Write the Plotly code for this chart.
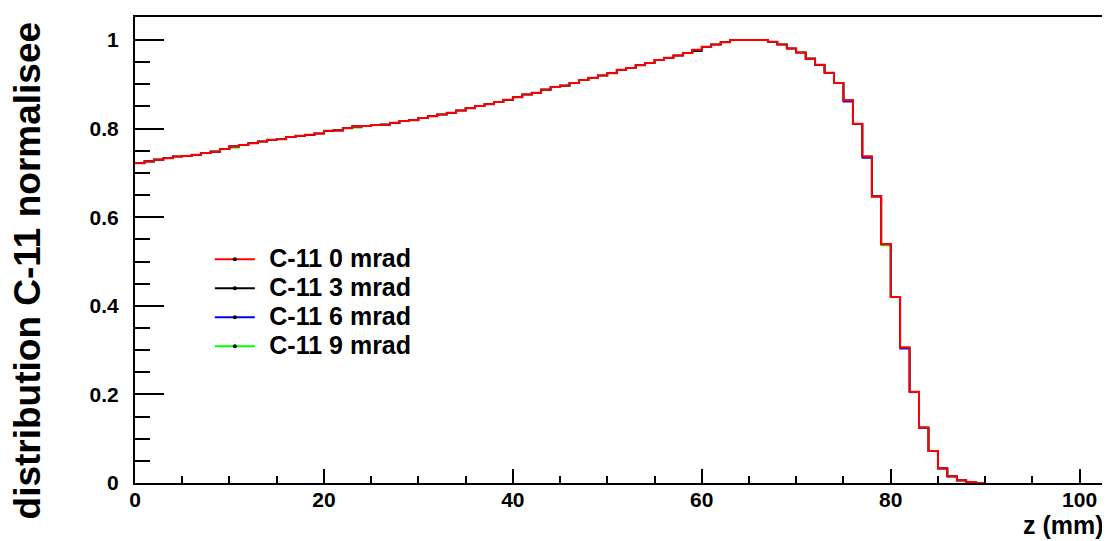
import plotly.graph_objects as go

# bin left edges (1 mm bins), z in mm
bin_edges = list(range(0, 91))

# C-11 0 mrad, normalised distribution, one value per 1 mm bin (0..89)
c11_0mrad = [
    0.722, 0.726, 0.730, 0.733, 0.737, 0.738, 0.741, 0.745, 0.748, 0.754,
    0.760, 0.763, 0.767, 0.771, 0.775, 0.776, 0.781, 0.784, 0.786, 0.789,
    0.795, 0.796, 0.801, 0.805, 0.806, 0.808, 0.809, 0.813, 0.817, 0.819,
    0.824, 0.828, 0.832, 0.836, 0.841, 0.846, 0.851, 0.855, 0.860, 0.865,
    0.871, 0.877, 0.881, 0.888, 0.894, 0.897, 0.903, 0.910, 0.915, 0.920,
    0.925, 0.933, 0.937, 0.943, 0.948, 0.955, 0.960, 0.965, 0.971, 0.978,
    0.985, 0.990, 0.995, 1.000, 1.000, 1.000, 1.000, 0.996, 0.990, 0.981,
    0.972, 0.958, 0.944, 0.926, 0.903, 0.864, 0.811, 0.737, 0.647, 0.539,
    0.420, 0.306, 0.206, 0.125, 0.072, 0.033, 0.015, 0.006, 0.002, 0.000,
]
# other angles: identical except these bins (bin index: value)
c11_3mrad_diff = {59: 0.975}
c11_6mrad_diff = {75: 0.861, 77: 0.734, 81: 0.303}
c11_9mrad_diff = {10: 0.757, 23: 0.802, 79: 0.536}

series_names = ["C-11 0 mrad", "C-11 3 mrad", "C-11 6 mrad", "C-11 9 mrad"]
series_colors = ["#ff0000", "#000000", "#0000ff", "#00ff00"]

def with_diff(base, diff):
    return [diff.get(i, v) for i, v in enumerate(base)]

series_values = [
    c11_0mrad,
    with_diff(c11_0mrad, c11_3mrad_diff),
    with_diff(c11_0mrad, c11_6mrad_diff),
    with_diff(c11_0mrad, c11_9mrad_diff),
]

FONT = "Liberation Sans, Arial, Helvetica, sans-serif"
fig = go.Figure()

# draw red last so it is on top
for idx in [3, 2, 1, 0]:
    vals = series_values[idx]
    fig.add_trace(go.Scatter(
        x=bin_edges, y=vals + [vals[-1]],
        mode="lines",
        line=dict(color=series_colors[idx], width=2 if idx == 0 else 1.6, shape="hv"),
        showlegend=False, hoverinfo="skip",
    ))

# legend entries (line with small marker like ROOT)
for idx in range(4):
    label = ('<span style="font-size:34px">\u00a0</span>'
             '<span style="font-size:25px">' + series_names[idx] + '</span>')
    fig.add_trace(go.Scatter(
        x=[-50], y=[-50], mode="lines+markers",
        name=label,
        line=dict(color=series_colors[idx], width=2),
        marker=dict(color="black", size=4),
        legendrank=idx + 1,
    ))

# page body has an 8 px margin: compensate so the plot frame sits where it should
fig.update_layout(
    width=1102, height=533,
    margin=dict(l=127, r=1, t=9, b=58),
    paper_bgcolor="white", plot_bgcolor="white",
    font=dict(family=FONT, color="black"),
    legend=dict(
        x=0.077, y=0.522, xanchor="left", yanchor="top",
        bgcolor="rgba(0,0,0,0)", itemwidth=40,
        font=dict(family=FONT, size=20, weight="bold"),
        tracegroupgap=0,
    ),
    xaxis=dict(
        range=[0, 102.9], showgrid=False, zeroline=False,
        showline=True, linecolor="black", linewidth=2, mirror=True,
        ticks="inside", ticklen=14, tickwidth=2, tickcolor="black",
        tick0=0, dtick=20,
        minor=dict(ticks="inside", ticklen=7, tickwidth=2, tickcolor="black", dtick=5, tick0=0),
        tickfont=dict(family=FONT, size=21, weight="bold"),
        ticklabelstandoff=-3,
    ),
    yaxis=dict(
        range=[0, 1.052], showgrid=False, zeroline=False,
        showline=True, linecolor="black", linewidth=2, mirror=True,
        ticks="inside", ticklen=29, tickwidth=2, tickcolor="black",
        tick0=0, dtick=0.2,
        minor=dict(ticks="inside", ticklen=15, tickwidth=2, tickcolor="black", dtick=0.05, tick0=0),
        tickfont=dict(family=FONT, size=21, weight="bold"),
        ticklabelstandoff=10,
    ),
    annotations=[
        dict(text="distribution C-11 normalisee", xref="paper", yref="paper",
             x=(27 - 135) / 974, y=(483 - 270) / 466.5, xanchor="center", yanchor="middle",
             textangle=-90, showarrow=False,
             font=dict(family=FONT, size=37, weight="bold")),
        dict(text="z (mm)", xref="paper", yref="paper",
             x=0.999, y=(483 - 525) / 466.5, xanchor="right", yanchor="middle",
             showarrow=False, font=dict(family=FONT, size=25, weight="bold")),
    ],
)

fig.write_html("out.html")
